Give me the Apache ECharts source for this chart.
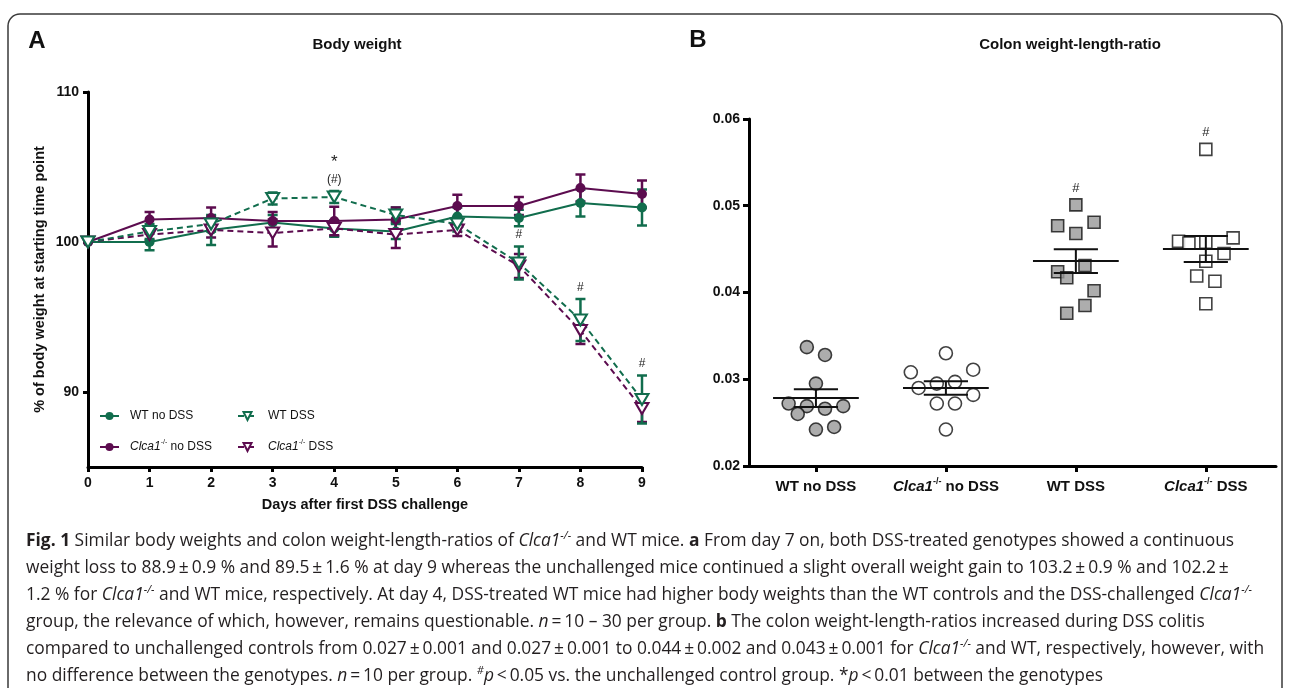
<!DOCTYPE html>
<html>
<head>
<meta charset="utf-8">
<title>Fig. 1 body weight / colon weight-length-ratio</title>
<script src="https://cdn.jsdelivr.net/npm/echarts@6/dist/echarts.min.js"></script>
<style>
  html, body { margin: 0; padding: 0; background: #fff; }
  #chart { width: 1290px; height: 688px; }
</style>
</head>
<body>
<div id="chart"></div>
<script>
// ---- panel A: body weight in % of day 0 (mean and SEM) ----
const days = [0, 1, 2, 3, 4, 5, 6, 7, 8, 9]
const wtNoDss      = [100, 100.0, 100.8, 101.3, 100.9, 100.7, 101.7, 101.6, 102.6, 102.3]
const wtNoDssErr   = [0, 0.55, 1.0, 0.5, 0.55, 0.5, 0.6, 0.55, 0.9, 1.2]
const koNoDss      = [100, 101.5, 101.6, 101.4, 101.4, 101.5, 102.4, 102.4, 103.6, 103.2]
const koNoDssErr   = [0, 0.5, 0.7, 0.6, 0.95, 0.8, 0.75, 0.6, 0.9, 0.9]
const wtDss        = [100, 100.7, 101.2, 102.9, 103.0, 101.8, 101.2, 98.6, 94.8, 89.5]
const wtDssErr     = [0, 0.5, 0.5, 0.4, 0.4, 0.5, 0.5, 1.1, 1.4, 1.6]
const koDss        = [100, 100.5, 100.8, 100.6, 100.9, 100.5, 100.8, 98.4, 94.1, 88.9]
const koDssErr     = [0, 0.4, 0.5, 0.9, 0.5, 0.9, 0.4, 0.8, 0.9, 0.9]
// significance marks above the WT DSS curve
const markDays  = [4, 7, 8, 9]
const markTexts = ['{a|*}\n{h|(#)}', '{h|#}', '{h|#}', '{h|#}']
const yTicksA = [90, 100, 110]

// ---- panel B: colon weight-length-ratio, single animals ----
const groups = ['WT no DSS', 'Clca1 no DSS', 'WT DSS', 'Clca1 DSS']
const ratioWtNoDss = [0.0337, 0.0328, 0.0295, 0.0272, 0.0269, 0.0266, 0.0269, 0.0260, 0.0242, 0.0245]
const jitWtNoDss   = [-0.07, 0.07, 0, -0.21, -0.07, 0.07, 0.21, -0.14, 0, 0.14]
const ratioKoNoDss = [0.0330, 0.0308, 0.0311, 0.0290, 0.0295, 0.0297, 0.0282, 0.0272, 0.0272, 0.0242]
const jitKoNoDss   = [0, -0.27, 0.21, -0.21, -0.07, 0.07, 0.21, -0.07, 0.07, 0]
const ratioWtDss   = [0.0501, 0.0477, 0.0481, 0.0468, 0.0431, 0.0424, 0.0417, 0.0402, 0.0385, 0.0376]
const jitWtDss     = [0, -0.14, 0.14, 0, 0.07, -0.14, -0.07, 0.14, 0.07, -0.07]
const ratioKoDss   = [0.0565, 0.0459, 0.0457, 0.0458, 0.0463, 0.0445, 0.0436, 0.0419, 0.0413, 0.0387]
const jitKoDss     = [0, -0.21, -0.13, 0, 0.21, 0.14, 0, -0.07, 0.07, 0]
const sigGroupsB = [2, 3]   // '#' above these groups

const GREEN = '#116d4d'
const PURPLE = '#5c0c4f'
const FONT = 'Liberation Sans, Arial, sans-serif'
const CAP_FONT = '"Open Sans", Lato, sans-serif'

const chart = echarts.init(document.getElementById('chart'))

// rich styles: n normal, i italic, s superscript
const richSet = (size, weight) => ({
  n: { fontSize: size, fontFamily: FONT, fontWeight: weight, color: '#111', lineHeight: size + 4 },
  i: { fontSize: size, fontFamily: FONT, fontWeight: weight, fontStyle: 'italic', color: '#111', lineHeight: size + 4 },
  s: { fontSize: Math.round(size * 0.62), fontFamily: FONT, fontWeight: weight, color: '#111',
       verticalAlign: 'top', lineHeight: Math.round(size * 0.62) + 1 }
})
const geno = (name) => {
  if (name.indexOf('Clca1') === 0) return '{i|Clca1}{s|-/-}{n|' + name.slice(5) + '}'
  return '{n|' + name + '}'
}

const pairs = (xs, ys) => xs.map((x, i) => [x, ys[i]])
const errData = (vals, errs) => days.map((d, i) => [d, vals[i] - errs[i], vals[i] + errs[i]])

const errRender = (color) => (params, api) => {
  const x = api.value(0), lo = api.value(1), hi = api.value(2)
  if (hi - lo <= 0) return
  const a = api.coord([x, hi]), b = api.coord([x, lo])
  const w = 5
  const st = { stroke: color, lineWidth: 2.5 }
  return {
    type: 'group', children: [
      { type: 'line', shape: { x1: a[0], y1: a[1], x2: b[0], y2: b[1] }, style: st },
      { type: 'line', shape: { x1: a[0] - w, y1: a[1], x2: a[0] + w, y2: a[1] }, style: st },
      { type: 'line', shape: { x1: b[0] - w, y1: b[1], x2: b[0] + w, y2: b[1] }, style: st }
    ]
  }
}

const lineSeries = (name, vals, color, dss) => ({
  name: name, type: 'line', xAxisIndex: 0, yAxisIndex: 0,
  data: pairs(days, vals),
  symbol: dss ? 'triangle' : 'circle',
  symbolRotate: dss ? 180 : 0,
  symbolSize: dss ? [13, 11] : 10,
  lineStyle: { color: color, width: 2, type: dss ? [6, 4] : 'solid' },
  itemStyle: dss ? { color: '#fff', borderColor: color, borderWidth: 2 } : { color: color, borderWidth: 0 },
  z: dss ? 4 : 3,
  animation: false
})

const errSeries = (vals, errs, color) => ({
  type: 'custom', xAxisIndex: 0, yAxisIndex: 0,
  data: errData(vals, errs),
  encode: { x: 0, y: [1, 2] },
  renderItem: errRender(color),
  z: 2, silent: true
})

// mean and SEM per group for panel B
const bSets = [ratioWtNoDss, ratioKoNoDss, ratioWtDss, ratioKoDss]
const bJit = [jitWtNoDss, jitKoNoDss, jitWtDss, jitKoDss]
const stats = bSets.map((v, g) => {
  const m = v.reduce((s, x) => s + x, 0) / v.length
  const sd = Math.sqrt(v.reduce((s, x) => s + (x - m) * (x - m), 0) / (v.length - 1))
  return [g, m, sd / Math.sqrt(v.length)]
})

const scatterSeries = (g, symbol, fill) => ({
  type: 'scatter', xAxisIndex: 1, yAxisIndex: 1,
  data: bSets[g].map((v, i) => [g + bJit[g][i], v]),
  symbol: symbol, symbolSize: symbol === 'circle' ? 13 : 12,
  itemStyle: { color: fill, borderColor: '#111', borderWidth: 1.6 },
  z: 3, silent: true
})

const option = {
  animation: false,
  textStyle: { fontFamily: FONT },
  graphic: [
    { type: 'rect', shape: { x: 8, y: 14, width: 1274, height: 720, r: 12 },
      style: { fill: 'none', stroke: '#3a3a3a', lineWidth: 1.5 }, silent: true },
    { type: 'text', x: 37, y: 41, style: { text: 'A', fontSize: 24, fontWeight: 'bold', fontFamily: FONT,
      fill: '#111', align: 'center', verticalAlign: 'middle' } },
    { type: 'text', x: 698, y: 40, style: { text: 'B', fontSize: 24, fontWeight: 'bold', fontFamily: FONT,
      fill: '#111', align: 'center', verticalAlign: 'middle' } },
    { type: 'text', x: 357, y: 45, style: { text: 'Body weight', fontSize: 15, fontWeight: 'bold', fontFamily: FONT,
      fill: '#111', align: 'center', verticalAlign: 'middle' } },
    { type: 'text', x: 1070, y: 45, style: { text: 'Colon weight-length-ratio', fontSize: 15, fontWeight: 'bold', fontFamily: FONT,
      fill: '#111', align: 'center', verticalAlign: 'middle' } }
  ],
  grid: [
    { left: 88, top: 92, width: 554, height: 375 },
    { left: 749, top: 119, width: 527, height: 347 }
  ],
  legend: [
    {
      data: ['WT no DSS', 'Clca1 no DSS'], orient: 'vertical', left: 94, top: 405,
      itemWidth: 19, itemHeight: 10, itemGap: 17,
      formatter: geno,
      textStyle: { padding: [0, 0, 0, 6], rich: richSet(12, 'normal') }
    },
    {
      data: ['WT DSS', 'Clca1 DSS'], orient: 'vertical', left: 232, top: 405,
      itemWidth: 19, itemHeight: 10, itemGap: 17,
      formatter: geno,
      textStyle: { padding: [0, 0, 0, 6], rich: richSet(12, 'normal') }
    }
  ],
  xAxis: [
    {
      gridIndex: 0, type: 'value', min: 0, max: 9, interval: 1,
      name: 'Days after first DSS challenge', nameLocation: 'middle', nameGap: 30,
      nameTextStyle: { fontSize: 14.5, fontWeight: 'bold', color: '#111', fontFamily: FONT },
      axisLine: { lineStyle: { color: '#000', width: 3 } },
      axisTick: { length: 5, lineStyle: { color: '#000', width: 3 } },
      axisLabel: { margin: 9, fontSize: 14, fontWeight: 'bold', color: '#111', fontFamily: FONT },
      splitLine: { show: false }
    },
    {
      gridIndex: 1, type: 'value', min: -0.515, max: 3.54,
      axisLine: { onZero: false, lineStyle: { color: '#000', width: 3 } },
      axisTick: { length: 6, lineStyle: { color: '#000', width: 3 }, customValues: [0, 1, 2, 3] },
      axisLabel: {
        margin: 11, customValues: [0, 1, 2, 3],
        formatter: (v) => geno(groups[Math.round(v)]),
        rich: richSet(15, 'bold')
      },
      splitLine: { show: false }
    }
  ],
  yAxis: [
    {
      gridIndex: 0, type: 'value', min: 85, max: 110,
      name: '% of body weight at starting time point', nameLocation: 'middle', nameGap: 41,
      nameTextStyle: { fontSize: 14.5, fontWeight: 'bold', color: '#111', fontFamily: FONT },
      axisLine: { show: true, onZero: false, lineStyle: { color: '#000', width: 3 } },
      axisTick: { show: true, length: 5, lineStyle: { color: '#000', width: 3 }, customValues: yTicksA },
      axisLabel: { margin: 9, fontSize: 14, fontWeight: 'bold', color: '#111', fontFamily: FONT, customValues: yTicksA },
      splitLine: { show: false }
    },
    {
      gridIndex: 1, type: 'value', min: 0.02, max: 0.06, interval: 0.01,
      axisLine: { show: true, onZero: false, lineStyle: { color: '#000', width: 3 } },
      axisTick: { show: true, length: 6, lineStyle: { color: '#000', width: 3 } },
      axisLabel: { margin: 9, fontSize: 14, fontWeight: 'bold', color: '#111', fontFamily: FONT,
        formatter: (v) => v.toFixed(2) },
      splitLine: { show: false }
    }
  ],
  series: [
    errSeries(koDss, koDssErr, PURPLE),
    errSeries(wtDss, wtDssErr, GREEN),
    errSeries(wtNoDss, wtNoDssErr, GREEN),
    errSeries(koNoDss, koNoDssErr, PURPLE),
    lineSeries('Clca1 DSS', koDss, PURPLE, true),
    lineSeries('WT DSS', wtDss, GREEN, true),
    lineSeries('WT no DSS', wtNoDss, GREEN, false),
    lineSeries('Clca1 no DSS', koNoDss, PURPLE, false),
    {
      // '*', '(#)' and '#' marks over the WT DSS error bars
      type: 'custom', xAxisIndex: 0, yAxisIndex: 0,
      data: markDays.map((d) => [d, wtDss[d] + wtDssErr[d]]),
      encode: { x: 0, y: 1 },
      renderItem: (params, api) => {
        const p = api.coord([api.value(0), api.value(1)])
        return {
          type: 'text', x: p[0], y: p[1] - 3,
          style: {
            text: markTexts[params.dataIndex], fill: '#222', align: 'center', verticalAlign: 'bottom',
            rich: {
              a: { fontSize: 17, fontFamily: FONT, fill: '#222', lineHeight: 18 },
              h: { fontSize: 12, fontFamily: FONT, fill: '#222', lineHeight: 17 }
            }
          }
        }
      },
      z: 5, silent: true
    },
    scatterSeries(0, 'circle', '#999'),
    scatterSeries(1, 'circle', '#fff'),
    scatterSeries(2, 'rect', '#999'),
    scatterSeries(3, 'rect', '#fff'),
    {
      // mean line with SEM whiskers
      type: 'custom', xAxisIndex: 1, yAxisIndex: 1,
      data: stats,
      encode: { x: 0, y: 1 },
      renderItem: (params, api) => {
        const g = api.value(0), m = api.value(1), se = api.value(2)
        const st = { stroke: '#111', lineWidth: 2 }
        const seg = (x1, y1, x2, y2) => {
          const a = api.coord([x1, y1]), b = api.coord([x2, y2])
          return { type: 'line', shape: { x1: a[0], y1: a[1], x2: b[0], y2: b[1] }, style: st }
        }
        return {
          type: 'group', children: [
            seg(g - 0.33, m, g + 0.33, m),
            seg(g - 0.17, m + se, g + 0.17, m + se),
            seg(g - 0.17, m - se, g + 0.17, m - se),
            seg(g, m - se, g, m + se)
          ]
        }
      },
      z: 4, silent: true
    },
    {
      type: 'custom', xAxisIndex: 1, yAxisIndex: 1,
      data: sigGroupsB.map((g) => [g, Math.max.apply(null, bSets[g])]),
      encode: { x: 0, y: 1 },
      renderItem: (params, api) => {
        const p = api.coord([api.value(0), api.value(1)])
        return {
          type: 'text', x: p[0], y: p[1] - 10,
          style: { text: '#', fontSize: 13, fontFamily: FONT, fill: '#222', align: 'center', verticalAlign: 'bottom' }
        }
      },
      z: 5, silent: true
    }
  ]
}
chart.setOption(option)

// ---- caption, one graphic text per printed line ----
const cs = 17.4
const capRich = {
  n: { fontSize: cs, fontFamily: CAP_FONT, color: '#231f20', lineHeight: 22 },
  b: { fontSize: cs, fontFamily: CAP_FONT, fontWeight: 'bold', color: '#231f20', lineHeight: 22 },
  i: { fontSize: cs, fontFamily: CAP_FONT, fontStyle: 'italic', color: '#231f20', lineHeight: 22 },
  s: { fontSize: 11, fontFamily: CAP_FONT, fontStyle: 'italic', color: '#231f20', verticalAlign: 'top', lineHeight: 12 }
}
const T = '\u2009'
const KO = '{i|Clca1}{s|-/-}'
const captionLines = [
  '{b|Fig. 1}{n| Similar body weights and colon weight-length-ratios of }' + KO + '{n| and WT mice. }{b|a}{n| From day 7 on, both DSS-treated genotypes showed a continuous}',
  '{n|weight loss to 88.9' + T + '±' + T + '0.9 % and 89.5' + T + '±' + T + '1.6 % at day 9 whereas the unchallenged mice continued a slight overall weight gain to 103.2' + T + '±' + T + '0.9 % and 102.2' + T + '±}',
  '{n|1.2 % for }' + KO + '{n| and WT mice, respectively. At day 4, DSS-treated WT mice had higher body weights than the WT controls and the DSS-challenged }' + KO,
  '{n|group, the relevance of which, however, remains questionable. }{i|n}{n|' + T + '=' + T + '10 – 30 per group. }{b|b}{n| The colon weight-length-ratios increased during DSS colitis}',
  '{n|compared to unchallenged controls from 0.027' + T + '±' + T + '0.001 and 0.027' + T + '±' + T + '0.001 to 0.044' + T + '±' + T + '0.002 and 0.043' + T + '±' + T + '0.001 for }' + KO + '{n| and WT, respectively, however, with}',
  '{n|no difference between the genotypes. }{i|n}{n|' + T + '=' + T + '10 per group. }{s|#}{i|p}{n|' + T + '<' + T + '0.05 vs. the unchallenged control group. *}{i|p}{n|' + T + '<' + T + '0.01 between the genotypes}'
]
const capGraphics = captionLines.map((t, k) => ({
  type: 'text', x: 26, y: 541 + k * 27,
  style: { text: t, rich: capRich, fontSize: cs, fontFamily: CAP_FONT, fill: '#231f20', verticalAlign: 'middle' },
  silent: true
}))
chart.setOption({ graphic: option.graphic.concat(capGraphics) })
</script>
</body>
</html>
